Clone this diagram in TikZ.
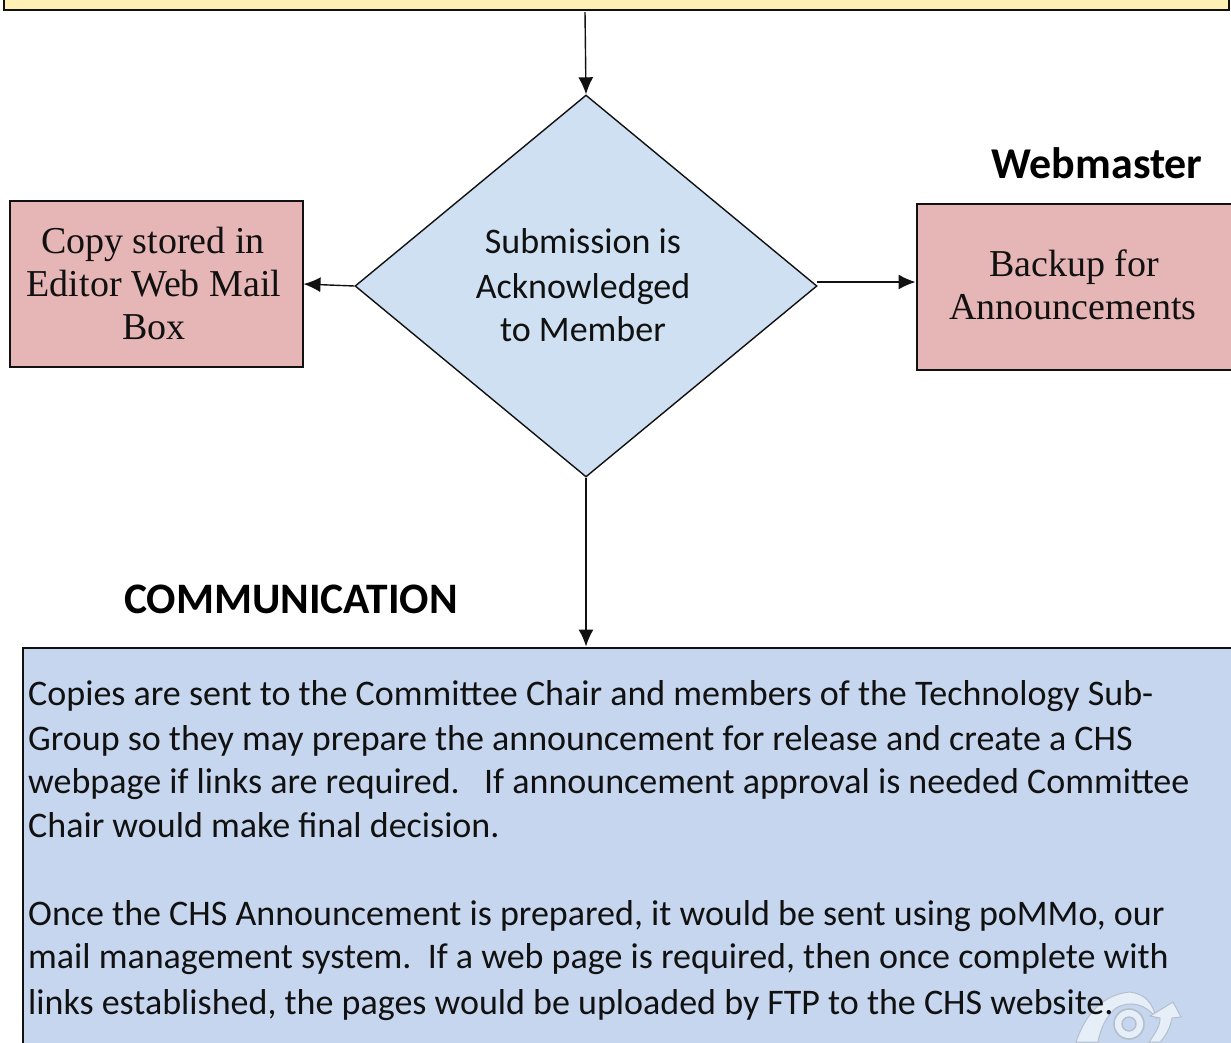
\documentclass[tikz,border=0pt]{standalone}
\usepackage{fontspec}
\setmainfont{Carlito}
\newfontfamily\serifface{Liberation Serif}
\usetikzlibrary{arrows.meta,shapes.geometric}
\definecolor{topfill}{HTML}{FFF0B5}
\definecolor{redfill}{HTML}{E6B5B5}
\definecolor{diafill}{HTML}{CFE0F2}
\definecolor{commfill}{HTML}{C6D6EF}
\definecolor{ink}{HTML}{111111}
\definecolor{markfill}{HTML}{E6EEF8}
\definecolor{markline}{HTML}{B4BFCC}
\tikzset{
 x=1pt,y=-1pt,
 box/.style={draw=ink,line width=2pt,inner sep=0pt,anchor=north west},
 txt/.style={font=\fontsize{36}{36}\selectfont,text=ink,inner sep=0pt,anchor=base},
 rtxt/.style={font=\serifface\fontsize{38}{38}\selectfont,text=ink,inner sep=0pt,anchor=base},
 head/.style={font=\fontsize{44}{44}\selectfont\bfseries,text=black,inner sep=0pt},
 para/.style={font=\fontsize{36}{36}\selectfont,text=ink,inner sep=0pt,anchor=base west},
 conn/.style={draw=ink,line width=1.4pt,-{Latex[length=17pt,width=15pt]}},
 markpart/.style={draw=markline,line width=1pt,fill=markfill}
}
\begin{document}
\begin{tikzpicture}
\useasboundingbox (0,0) rectangle (1231,1042);
\fill[white] (0,0) rectangle (1231,1042);
\begin{scope}
\clip (0,0) rectangle (1231,1042);
\node[box,fill=topfill,minimum width=1225pt,minimum height=30pt] (top) at (2.5,-21) {};
\coordinate (topout) at (585,12);
\node[diamond,draw=ink,line width=1.4pt,fill=diafill,minimum width=462pt,minimum height=382pt,inner sep=0pt,aspect=1.2] (dia) at (586,286) {};
\node[box,fill=redfill,minimum width=293pt,minimum height=166pt] (copy) at (8.5,200) {};
\node[box,fill=redfill,minimum width=330pt,minimum height=166pt] (backup) at (915.5,203) {};
\node[box,fill=commfill,minimum width=1225pt,minimum height=420pt] (comm) at (22,646.5) {};
\path[markpart] (1076,1042) .. controls (1086,1012) and (1105,994) .. (1130,992) .. controls (1145,994) and (1153,1003) .. (1156,1018) .. controls (1146,1004) and (1130,1000) .. (1116,1008) .. controls (1106,1016) and (1100,1030) .. (1098,1042) -- cycle;
\path[markpart] (1149,1042) .. controls (1156,1032) and (1160,1026) .. (1160,1018) -- (1150,1016) -- (1173,1002) -- (1181,1017) -- (1172,1018) .. controls (1170,1028) and (1166,1036) .. (1160,1042) -- cycle;
\draw[markline,line width=1.6pt,fill=markfill] (1129,1024) circle (15pt);
\draw[markline,line width=1.4pt,fill=commfill] (1129,1024) circle (7pt);
\end{scope}
\node[rtxt] (t1) at (153,253) {Copy stored in};
\node[rtxt] (t2) at (154,296) {Editor Web Mail};
\node[rtxt] (t3) at (154,339) {Box};
\node[txt] (d1) at (583,253.5) {Submission is};
\node[txt] (d2) at (583,298.5) {Acknowledged};
\node[txt] (d3) at (583,341.5) {to Member};
\node[rtxt] (b1) at (1074,276) {Backup for};
\node[rtxt] (b2) at (1073,319) {Announcements};
\node[head] (wm) at (1097,163) {Webmaster};
\node[head,font=\fontsize{43.5}{44}\selectfont\bfseries] (cm) at (291,599) {COMMUNICATION};
\draw[conn] (topout) -- (dia.north);
\draw[conn] (dia.west) -- (copy.east);
\draw[conn] (817,282) -- (backup.west |- 0,282);
\draw[conn] (dia.south) -- (dia.south |- comm.north);
\node[para] (p1) at (28,705.5) {Copies are sent to the Committee Chair and members of the Technology Sub-};
\node[para] (p2) at (28,750.5) {Group so they may prepare the announcement for release and create a CHS};
\node[para] (p3) at (28,793.5) {webpage if links are required.\ \ \ If announcement approval is needed Committee};
\node[para] (p4) at (28,837.5) {Chair would make final decision.};
\node[para] (p5) at (28,925.5) {Once the CHS Announcement is prepared, it would be sent using poMMo, our};
\node[para] (p6) at (28,968.5) {mail management system.\ \ If a web page is required, then once complete with};
\node[para] (p7) at (28,1014.5) {links established, the pages would be uploaded by FTP to the CHS website.};
\end{tikzpicture}
\end{document}
